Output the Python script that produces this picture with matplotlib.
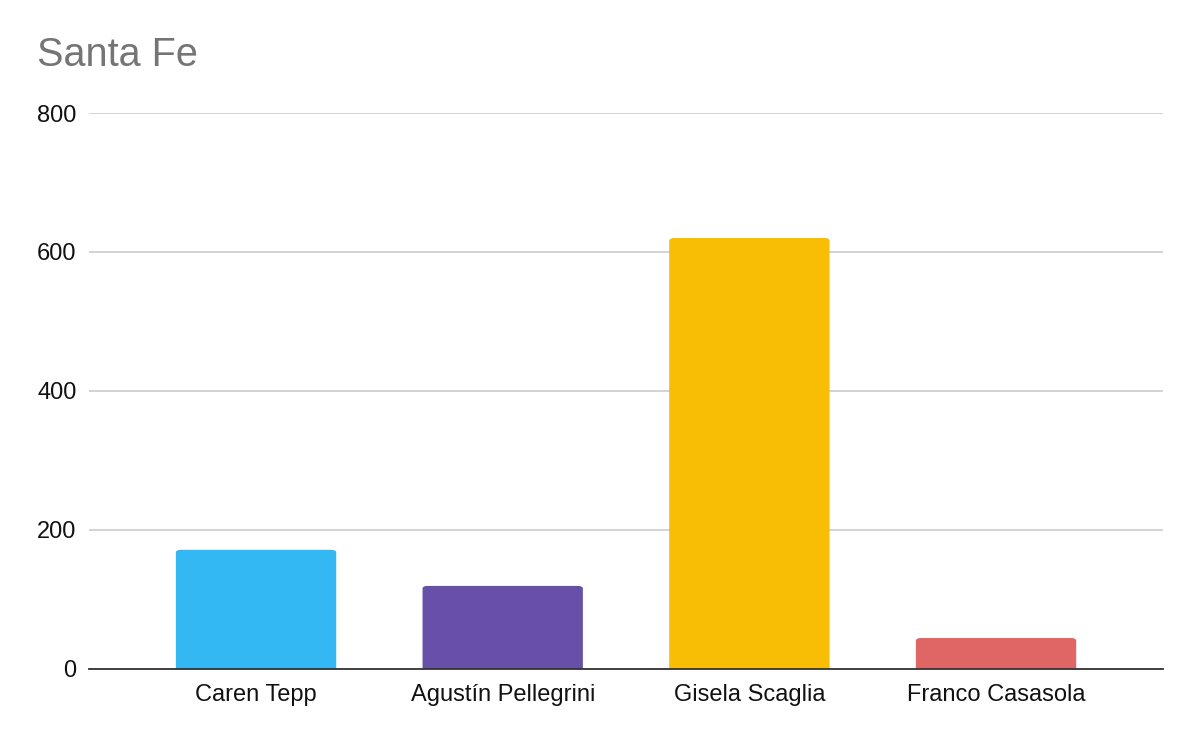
import matplotlib
matplotlib.use('Agg')
import matplotlib.pyplot as plt
from matplotlib.patches import FancyBboxPatch

candidates = ['Caren Tepp', 'Agustín Pellegrini', 'Gisela Scaglia', 'Franco Casasola']
votes = [171, 119, 620, 44]
colors = ['#33b8f4', '#6750a8', '#f8bd05', '#e06666']
yticks = [0, 200, 400, 600, 800]

plt.rcParams['font.family'] = ['Liberation Sans', 'DejaVu Sans']

fig = plt.figure(figsize=(12, 7.42), dpi=100)
ax = fig.add_axes([0.0742, 0.099, 0.8950, 0.7487])

x = range(len(candidates))
bars = ax.bar(x, votes, width=0.65, color=colors, zorder=3)

# round the top corners a little, like the original
for b in bars:
    b.set_visible(False)
    bx, by, bw, bh = b.get_x(), b.get_y(), b.get_width(), b.get_height()
    p = FancyBboxPatch((bx, by - 10), bw, bh + 10,
                       boxstyle='round,pad=0,rounding_size=0.02',
                       mutation_aspect=200, fc=b.get_facecolor(), ec='none',
                       zorder=3)
    ax.add_patch(p)

ax.set_xlim(-0.677, len(candidates) - 1 + 0.677)
ax.set_ylim(0, 800)
ax.set_yticks(yticks)
ax.set_xticks(list(x))
ax.set_xticklabels(candidates)
ax.tick_params(axis='both', length=0, labelsize=17, labelcolor='#111111')
ax.tick_params(axis='x', pad=11)
ax.tick_params(axis='y', pad=9)

ax.grid(axis='y', color='#cccccc', lw=1.2, zorder=0)
for s in ['top', 'right', 'left']:
    ax.spines[s].set_visible(False)
ax.spines['bottom'].set_color('#333333')
ax.spines['bottom'].set_linewidth(1.3)
ax.spines['bottom'].set_zorder(4)

fig.text(0.031, 0.926, 'Santa Fe', fontsize=28.5, color='#757575', ha='left', va='center')

fig.savefig('out.png', dpi=100, facecolor='white')
